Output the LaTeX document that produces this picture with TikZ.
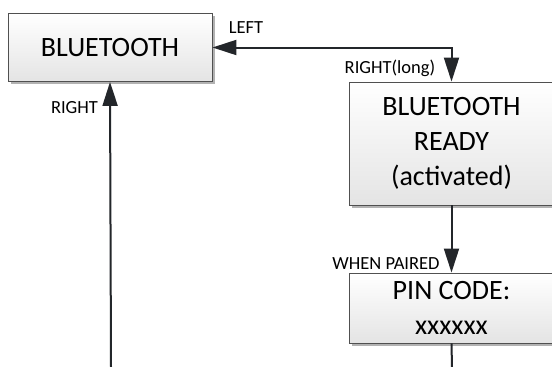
\documentclass[tikz,border=0pt]{standalone}
\usepackage{fontspec}
\setmainfont{Carlito}
\usetikzlibrary{arrows.meta,shadows}
\definecolor{linec}{RGB}{35,38,42}
\definecolor{boxborder}{RGB}{80,80,80}
\definecolor{boxbottom}{RGB}{228,228,228}
\tikzset{
  statebox/.style={draw=boxborder, line width=0.9pt, rectangle, top color=white, bottom color=boxbottom,
    general shadow={shadow xshift=2.5pt, shadow yshift=-2.5pt, fill=black!30},
    align=center, inner sep=0pt, font=\fontsize{28}{35}\selectfont, text=black},
  conn/.style={draw=linec, line width=2pt, -{Triangle[length=24pt,width=15pt]}},
  lbl/.style={font=\fontsize{18.5}{20}\selectfont, text=black, anchor=base, inner sep=0pt}
}
\begin{document}
\begin{tikzpicture}[x=1pt,y=-1pt]
\useasboundingbox (0,0) rectangle (552,367);
\begin{scope}
\clip (0,0) rectangle (552,367);
\node[statebox, minimum width=204pt, minimum height=68pt] (bt) at (110,47.5) {BLUETOOTH};
\node[statebox, minimum width=205pt, minimum height=123pt] (ready) at (451.5,143.5) {BLUETOOTH\\READY\\(activated)};
\node[statebox, minimum width=205pt, minimum height=70pt] (pin) at (451.5,308) {PIN CODE:\\xxxxxx};
\coordinate (leftend) at (111,367);
\coordinate (pinend) at (452,367);
\draw[conn, {Triangle[length=24pt,width=15pt]}-{Triangle[length=24pt,width=15pt]}] (bt.east) -| (ready.north);
\draw[conn] (ready.south) -- (pin.north);
\draw[conn, -] (pin.south) -- (pinend);
\draw[conn] (leftend) -- (bt.south);
\end{scope}
\node[lbl] (lleft) at (246,33) {LEFT};
\node[lbl] (lrlong) at (390,73) {RIGHT(long)};
\node[lbl] (lpaired) at (386,269) {WHEN PAIRED};
\node[lbl] (lright) at (74.5,113) {RIGHT};
\end{tikzpicture}
\end{document}
